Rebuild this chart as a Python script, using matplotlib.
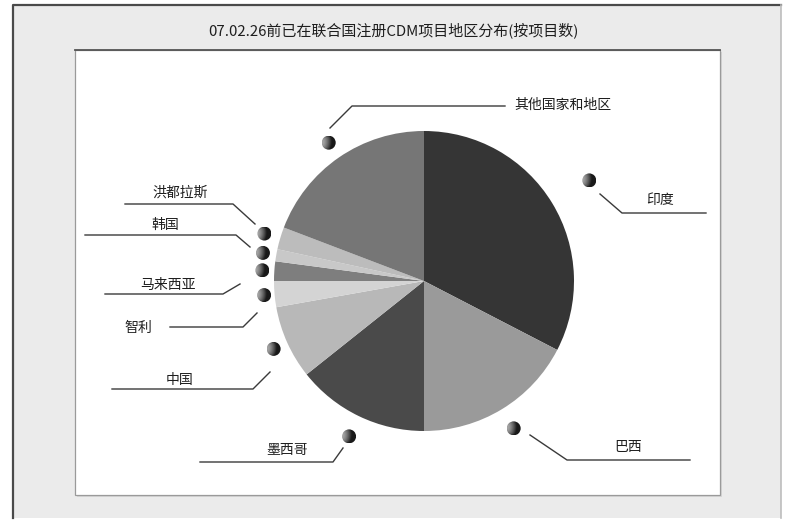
import numpy as np
import matplotlib.pyplot as plt
from matplotlib.patches import Rectangle, Circle

plt.rcParams['font.family'] = ['Noto Sans CJK SC', 'DejaVu Sans']

# registered CDM projects by host country, share of project count (%)
countries = ['印度', '巴西', '墨西哥', '中国', '智利', '马来西亚', '韩国', '洪都拉斯', '其他国家和地区']
shares = [32.6, 17.4, 14.3, 7.9, 2.8, 2.1, 1.3, 2.4, 19.2]
colors = ['#353535', '#9a9a9a', '#4a4a4a', '#b8b8b8', '#d4d4d4', '#7e7e7e', '#c8c8c8', '#bcbcbc', '#767676']
title = '07.02.26前已在联合国注册CDM项目地区分布(按项目数)'

# label layout in pixel units: dot distance (x radius), leader polyline, text centre
dot_dist = [1.29, 1.15, 1.15, 1.10, 1.07, 1.08, 1.09, 1.11, 1.12]
leaders = [
    [(600, 194), (622, 213), (706, 213)],
    [(530, 435), (567, 460), (690, 460)],
    [(343, 448), (333, 462), (200, 462)],
    [(270, 372), (253, 389), (112, 389)],
    [(257, 313), (243, 327), (170, 327)],
    [(240, 284), (223, 294), (105, 294)],
    [(250, 247), (236, 235), (85, 235)],
    [(255, 224), (233, 204), (125, 204)],
    [(330, 128), (352, 106), (505, 106)],
]
text_pos = [(660, 200), (628, 447), (287, 450), (180, 380), (138, 328),
            (168, 285), (165, 225), (180, 193), (563, 105)]

W, H = 797, 520
cx, cy, r = 424, 281, 150

fig = plt.figure(figsize=(W / 100, H / 100), dpi=100)
ax = fig.add_axes([0, 0, 1, 1])

# outer panel and inner plot area
ax.add_patch(Rectangle((13, 5), 768, 513, facecolor='#ebebeb', edgecolor='none', zorder=0))
ax.plot([13, 13, 781], [518, 5, 5], color='#4a4a4a', lw=1.6, zorder=1)
ax.plot([781, 781], [5, 518], color='#bdbdbd', lw=1.2, zorder=1)
ax.add_patch(Rectangle((77, 52), 645, 445, facecolor='#d6d6d6', edgecolor='none', zorder=1))
ax.add_patch(Rectangle((75, 50), 645, 445, facecolor='white', edgecolor='#9a9a9a', lw=0.9, zorder=1))
ax.plot([75, 720], [50, 50], color='#555555', lw=1.3, zorder=2)

ax.text(393, 30, title, ha='center', va='center', fontsize=10.8, color='#1e1e1e')

# y axis runs downward, so counterclockwise in data is clockwise on screen
wedges, _ = ax.pie(shares, colors=colors, startangle=-90, counterclock=True,
                   center=(cx, cy), radius=r, wedgeprops=dict(linewidth=0))
ax.set_xlim(0, W)
ax.set_ylim(H, 0)
ax.axis('off')

# shaded sphere used for the label markers, lit from the left
g = np.linspace(-1, 1, 41)
gx, gy = np.meshgrid(g, g)
gz = np.sqrt(np.clip(1 - gx ** 2 - gy ** 2, 0, None))
light = np.array([-0.9, -0.1, 0.4])
light = light / np.linalg.norm(light)
shade = np.clip(gx * light[0] + gy * light[1] + gz * light[2], 0, 1)
sphere = 0.1 + 0.55 * shade

for w, d, pts, tp, name in zip(wedges, dot_dist, leaders, text_pos, countries):
    mid = np.radians((w.theta1 + w.theta2) / 2)
    dx = cx + d * r * np.cos(mid)
    dy = cy + d * r * np.sin(mid)
    rad = 7
    im = ax.imshow(sphere, cmap='gray', vmin=0, vmax=1, origin='upper',
                   extent=(dx - rad, dx + rad, dy + rad, dy - rad), zorder=4,
                   interpolation='bilinear')
    im.set_clip_path(Circle((dx, dy), rad, transform=ax.transData))
    xs, ys = zip(*pts)
    ax.plot(xs, ys, color='#3a3a3a', lw=1.0, zorder=3)
    ax.text(tp[0], tp[1], name, ha='center', va='center', fontsize=10, color='#1e1e1e')

ax.set_xlim(0, W)
ax.set_ylim(H, 0)
fig.savefig('out.png', dpi=100, facecolor='white')
